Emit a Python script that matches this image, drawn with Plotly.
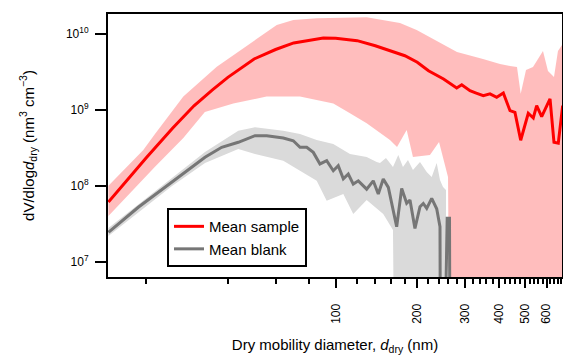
import plotly.graph_objects as go

# ---- data ----
# Mean sample (red)
sample_x = [14.5, 17, 20, 25, 30, 35, 40, 50, 60, 70, 80, 90, 100, 120, 140, 160, 180, 200, 220, 250,
            279.6, 291.8, 300, 313, 330, 350.5, 371, 392.8, 415.5, 439.8, 458.7, 481.6, 513.6, 535.9,
            551.6, 575.5, 617.9, 639, 662.8, 688]
sample_y = [6.15e7, 1.20e8, 2.35e8, 5.77e8, 1.135e9, 1.83e9, 2.69e9, 4.69e9, 6.25e9, 7.62e9, 8.34e9, 8.85e9,
            8.81e9, 8.17e9, 7.0e9, 5.92e9, 5.18e9, 4.25e9, 3.29e9, 2.56e9,
            1.95e9, 2.15e9, 2.01e9, 1.79e9, 1.67e9, 1.54e9, 1.63e9, 1.47e9, 1.67e9, 9.8e8, 9.3e8, 4.0e8,
            9.06e8, 7.85e8, 1.14e9, 8.2e8, 1.40e9, 3.76e8, 3.65e8, 1.14e9]

# Sample variability band
sample_hi_x = [14.5, 19.5, 21.5, 27.4, 36.4, 48.3, 60.6, 69.75, 85.1, 130.1, 149.8, 172.7, 199.0, 228.6,
               280.3, 349.6, 404, 439.8, 466.7, 481.6, 503.8, 534.6, 582, 607.3, 639, 661, 688]
sample_hi_y = [1.01e8, 2.98e8, 4.78e8, 1.50e9, 3.72e9, 7.55e9, 1.31e10, 1.53e10, 1.61e10, 1.66e10, 1.53e10,
               1.40e10, 1.13e10, 8.59e9, 5.79e9, 4.69e9, 4.03e9, 3.79e9, 3.68e9, 1.63e9, 3.36e9, 3.68e9,
               5.97e9, 3.26e9, 2.72e9, 5.97e9, 7.38e9]
sample_lo_x = [14.5, 21.5, 27.4, 32.9, 41.9, 55.6, 73.8, 98.0, 112.9, 130.1, 145.7, 158.6, 168.4, 182.8,
               192.8, 222.8, 240.6, 253.2, 259.7, 266.5, 688]
sample_lo_y = [4.03e7, 1.78e8, 4.29e8, 9.42e8, 1.22e9, 1.50e9, 1.50e9, 1.22e9, 9.06e8, 6.68e8, 4.98e8,
               4.03e8, 3.26e8, 5.46e8, 2.41e8, 2.56e8, 3.79e8, 1.89e8, 1.31e8, 1e3, 1e3]

# Mean blank (grey)
blank_x = [14.5, 18.69, 24.82, 32.94, 37.96, 43.71, 50.38, 55.64, 64.06, 69.75, 73.84, 78.16, 82.67, 87.5,
           92.64, 97.97, 102.2, 106.7, 111.3, 116.1, 121.2, 130.1, 137.6, 143.6, 149.8, 156.4, 167.9, 175.2,
           182.8, 188.0, 196.1, 204.7, 210.5, 216.7, 226.1, 235.9, 242.6, 244.8, 257.9, 263.0, 265.5]
blank_y = [2.46e7, 5.25e7, 1.12e8, 2.39e8, 3.23e8, 3.76e8, 4.59e8, 4.59e8, 4.29e8, 3.94e8, 3.23e8, 3.23e8,
           2.77e8, 1.95e8, 2.15e8, 1.59e8, 1.85e8, 1.24e8, 1.44e8, 1.06e8, 1.17e8, 9.1e7, 1.17e8, 7.85e7,
           1.24e8, 9.6e7, 2.91e7, 9.3e7, 5.92e7, 6.55e7, 2.77e7, 5.35e7, 5.89e7, 5.09e7, 6.89e7, 5.01e7,
           2.91e7, 1e3, 3.76e7, 3.76e7, 1e3]

# Blank variability band
blank_hi_x = [14.5, 24.82, 32.94, 43.71, 50.38, 64.06, 73.84, 85.1, 97.97, 112.9, 130.1, 141.7, 145.7,
              153.3, 162.7, 170.2, 177.1, 184.8, 192.8, 204.7, 216.7, 226.1, 235.9, 242.6, 248.9, 255.3]
blank_hi_y = [2.80e7, 1.27e8, 2.80e8, 5.35e8, 5.92e8, 5.35e8, 4.83e8, 4.03e8, 3.57e8, 2.64e8, 2.41e8,
              2.07e8, 2.01e8, 2.33e8, 1.78e8, 2.56e8, 1.78e8, 2.20e8, 1.62e8, 2.07e8, 1.53e8, 1.31e8,
              2.01e8, 1.20e8, 9.7e7, 8.85e7]
blank_lo_x = [14.5, 24.82, 32.94, 43.71, 50.38, 64.06, 73.84, 85.1, 92.64, 106.7, 116.1, 130.1, 149.8,
              162.7, 167.0, 255.3]
blank_lo_y = [2.20e7, 9.9e7, 2.01e8, 3.07e8, 2.64e8, 2.15e8, 1.59e8, 1.17e8, 6.41e7, 7.85e7, 4.29e7,
              6.55e7, 4.29e7, 2.64e7, 1e3, 1e3]

# Axis ticks
x_major = [100, 200, 300, 400, 500, 600]
x_major_text = ["100", "200", "300", "400", "500", "600"]
x_minor = [20, 40, 60, 80, 120, 140, 160, 180, 220, 240, 260, 280, 320, 340, 360, 380,
           420, 440, 460, 480, 520, 540, 560, 580, 620, 640, 660, 680]
y_major = [1e7, 1e8, 1e9, 1e10]
y_major_text = ["10<sup>7</sup>", "10<sup>8</sup>", "10<sup>9</sup>", "10<sup>10</sup>"]

FONT = "Arial, Liberation Sans, sans-serif"

fig = go.Figure()

fig.add_trace(go.Scatter(
    x=sample_hi_x + sample_lo_x[::-1], y=sample_hi_y + sample_lo_y[::-1],
    fill="toself", fillcolor="rgba(255,0,0,0.26)", line=dict(width=0),
    mode="lines", showlegend=False, hoverinfo="skip"))
fig.add_trace(go.Scatter(
    x=blank_hi_x + blank_lo_x[::-1], y=blank_hi_y + blank_lo_y[::-1],
    fill="toself", fillcolor="rgb(218,218,218)", line=dict(width=0),
    mode="lines", showlegend=False, hoverinfo="skip"))
fig.add_trace(go.Scatter(
    x=blank_x, y=blank_y, mode="lines", name="Mean blank",
    line=dict(color="rgb(118,118,118)", width=3), legendrank=2))
fig.add_trace(go.Scatter(
    x=sample_x, y=sample_y, mode="lines", name="Mean sample",
    line=dict(color="rgb(255,0,0)", width=3), legendrank=1))

fig.update_layout(
    width=563, height=358,
    margin=dict(l=108, r=1, t=14, b=81, autoexpand=False),
    paper_bgcolor="white", plot_bgcolor="white",
    font=dict(family=FONT, color="black", size=12),
    showlegend=True,
    legend=dict(
        x=0.13, y=0.262, xanchor="left", yanchor="top",
        bgcolor="white", bordercolor="black", borderwidth=2,
        font=dict(family=FONT, size=15, color="black"),
        itemwidth=30, tracegroupgap=0),
)

fig.update_xaxes(
    type="log", range=[1.1598, 2.8351], automargin=False,
    showgrid=False, zeroline=False,
    showline=True, linecolor="black", linewidth=2, mirror=True,
    ticks="outside", ticklen=9, tickwidth=2, tickcolor="black",
    tickmode="array", tickvals=x_major, ticktext=x_major_text, tickangle=-90,
    ticklabelstandoff=11,
    tickfont=dict(family=FONT, size=12, color="black"),
    minor=dict(tickmode="array", tickvals=x_minor, ticks="outside", ticklen=5,
               tickwidth=1.5, tickcolor="black", showgrid=False),
    title=dict(text="Dry mobility diameter, <i>d</i><sub>dry</sub> (nm)",
               font=dict(family=FONT, size=15, color="black"), standoff=17),
)
fig.update_yaxes(
    type="log", range=[6.803, 10.263], automargin=False,
    showgrid=False, zeroline=False,
    showline=True, linecolor="black", linewidth=2, mirror=True,
    ticks="outside", ticklen=11, tickwidth=2, tickcolor="black",
    tickmode="array", tickvals=y_major, ticktext=y_major_text,
    ticklabelstandoff=4,
    tickfont=dict(family=FONT, size=12, color="black"),
    title=dict(text="dV/dlog<i>d</i><sub>dry</sub> (nm<sup>3</sup> cm<sup>−3</sup>)",
               font=dict(family=FONT, size=15, color="black"), standoff=28),
)

fig.write_html(
    "out.html",
    config={"displayModeBar": False},
    post_script="document.body.style.margin='0';document.body.style.overflow='hidden';",
)
